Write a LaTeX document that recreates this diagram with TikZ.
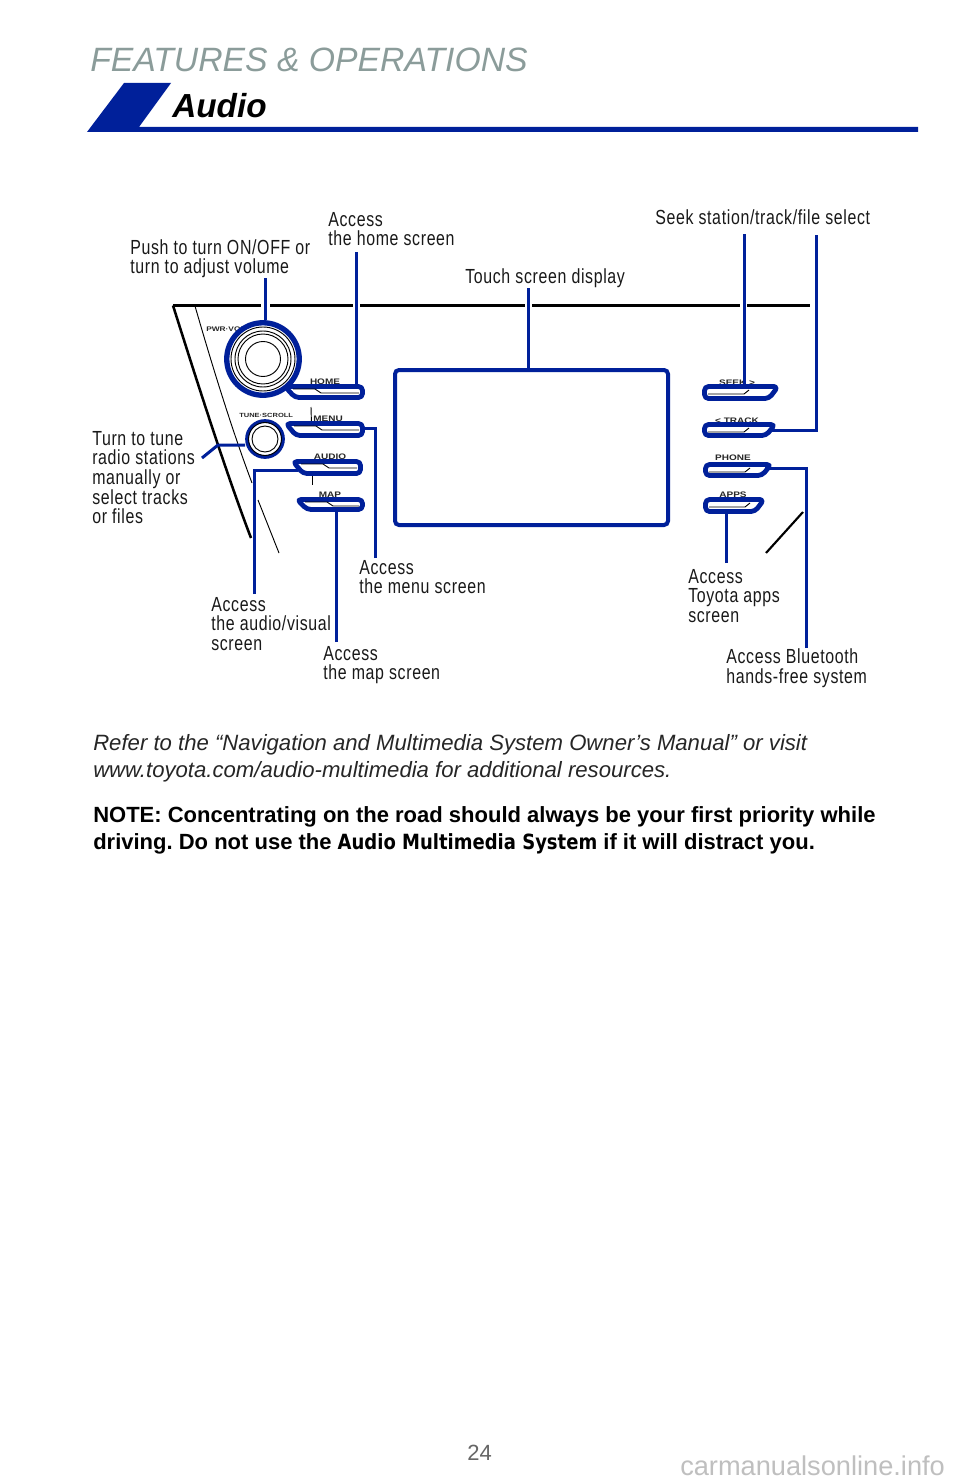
\documentclass[tikz,border=0pt]{standalone}
\usepackage{fontspec}
\setmainfont{Liberation Sans}
\newfontfamily\cond[FakeStretch=0.78,LetterSpace=3.2]{Liberation Sans}
\newfontfamily\wideb[FakeStretch=1.25]{Liberation Sans}
\definecolor{tblue}{HTML}{00209A}
\definecolor{tgray}{HTML}{8B9C9A}
\tikzset{
  lbl/.style={anchor=north west,inner sep=0pt,align=left,font=\cond\fontsize{15.3}{14.7}\selectfont,text=black!90},
  conn/.style={draw=tblue,line width=2.25pt,line join=miter},
  panel/.style={draw=black,line width=1.9pt},
  thinp/.style={draw=black,line width=0.7pt},
  outline/.style={draw=tblue,line width=3.6pt,fill=white,rounded corners=3pt,line join=round},
  btnbox/.style={inner sep=0pt,outer sep=0pt,draw=none},
  btntxt/.style={inner sep=0pt,font=\wideb\bfseries\fontsize{6}{6}\selectfont,text=black!85},
  inner/.style={draw=black,line width=0.7pt},
  ktxt/.style={inner sep=0pt,anchor=base west,font=\wideb\bfseries\fontsize{5}{5}\selectfont,text=black!85},
  para/.style={anchor=base west,inner sep=0pt}
}
% left-slanted button: name, x1, y1, x2, y2
\newcommand{\btnL}[5]{%
  \node[btnbox,minimum width={(#4-#2)*0.75pt},minimum height={(#5-#3)*0.75pt}] (#1) at ({(#2+#4)/2},{(#3+#5)/2}) {};
  \path[outline] (#2+25,#3+2.5) -- (#4-2.5,#3+2.5) -- (#4-2.5,#5-2.5) -- (#2+9,#5-2.5) -- (#2-1,#3+2.5) -- cycle;
  \draw[inner] (#2+7,#3+5) -- (#2+29,#3+5) -- (#2+35,#3+9) -- (#4-6,#3+9);
}
% right-slanted button
\newcommand{\btnR}[5]{%
  \node[btnbox,minimum width={(#4-#2)*0.75pt},minimum height={(#5-#3)*0.75pt}] (#1) at ({(#2+#4)/2},{(#3+#5)/2}) {};
  \path[outline] (#2+25,#3+2.5) -- (#4-1,#3+2.5) -- (#4-10,#5-2.5) -- (#2+2.5,#5-2.5) -- (#2+2.5,#3+2.5) -- cycle;
  \draw[inner] (#2+6,#3+10) -- (#2+42,#3+10) -- (#2+47,#3+6);
}
\begin{document}
\begin{tikzpicture}[x=0.75pt,y=-0.75pt]
\frenchspacing
\useasboundingbox (0,0) rectangle (960,1484);
\fill[white] (0,0) rectangle (960,1484);
% header
\node[para,text=tgray,font=\itshape\fontsize{25.3}{27}\selectfont] (hdr) at (90,72) {FEATURES \& OPERATIONS};
\fill[tblue] (87,132) -- (124,83) -- (171,83) -- (139,127) -- (918,127) -- (918,132) -- cycle;
\node[para,font=\bfseries\itshape\fontsize{25}{25}\selectfont] (audio) at (172,118) {Audio};
% panel
\draw[panel] (173,305.5) -- (261,305.5) (270,305.5) -- (353,305.5) (360,305.5) -- (525,305.5) (532,305.5) -- (740,305.5) (747,305.5) -- (810,305.5);
\draw[panel] (173,305.5) .. controls (195,375) and (225,470) .. (251,538);
\draw[thinp] (195,306) .. controls (212,365) and (232,430) .. (252,483);
\draw[thinp] (258,500) -- (279,553);
\draw[thinp] (311,407) -- (311.5,425);
\draw[thinp] (312,468) -- (312,485);
\draw[line width=1.6pt] (766,553) -- (803,512);
% knobs
\node[ktxt] (tpwr) at (206,331.5) {PWR·VOL};
\node[ktxt,font=\wideb\bfseries\fontsize{4.5}{5}\selectfont] (ttune) at (239,417) {TUNE·SCROLL};
\node[circle,draw=tblue,fill=white,line width=4pt,minimum size=72.5*0.75pt,inner sep=0pt] (knobA) at (263,359) {};
\foreach \r in {17.5,25,28,32}{\draw[black,line width=0.7pt] (knobA.center) circle[radius=\r*0.75pt];}
\node[circle,draw=tblue,fill=white,line width=2.8pt,minimum size=36*0.75pt,inner sep=0pt] (knobB) at (265,439) {};
\foreach \r in {13,16.5}{\draw[black,line width=0.7pt] (knobB.center) circle[radius=\r*0.75pt];}
% screen
\node[draw=tblue,line width=3pt,rounded corners=3pt,fill=white,minimum width=273*0.75pt,minimum height=155*0.75pt,inner sep=0pt] (screen) at (531.5,447.5) {};
% buttons
\node[btntxt] (tHome) at (325,381.5) {HOME};
\node[btntxt] (tMenu) at (328,419) {MENU};
\node[btntxt] (tAudio) at (330,457) {AUDIO};
\node[btntxt] (tMap) at (330,494.5) {MAP};
\node[btntxt] (tSeek) at (737,382.5) {SEEK >};
\node[btntxt] (tTrack) at (737,420.5) {< TRACK};
\node[btntxt] (tPhone) at (733,458) {PHONE};
\node[btntxt] (tApps) at (733,495) {APPS};
\btnL{bHome}{286}{384}{365}{400}
\btnL{bMenu}{287}{421}{365}{438}
\btnL{bAudio}{294}{459}{363}{476}
\btnL{bMap}{298}{497}{365}{512}
\btnR{bSeek}{702}{384}{779}{401}
\btnR{bTrack}{702}{422}{776}{438}
\btnR{bPhone}{703}{462}{772}{478}
\btnR{bApps}{703}{497}{765}{514}
% labels
\node[lbl] (lPush) at (130,239) {Push to turn ON/OFF or\\turn to adjust volume};
\node[lbl] (lHome) at (328,212) {Access\\the home screen};
\node[lbl] (lTouch) at (465,268) {Touch screen display};
\node[lbl] (lSeek) at (655,209) {Seek station/track/file select};
\node[lbl] (lTurn) at (92,431) {Turn to tune\\radio stations\\manually or\\select tracks\\or files};
\node[lbl] (lAudio) at (211,597) {Access\\the audio/visual\\screen};
\node[lbl] (lMap) at (323,646) {Access\\the map screen};
\node[lbl] (lMenu) at (359,560) {Access\\the menu screen};
\node[lbl] (lApps) at (688,569) {Access\\Toyota apps\\screen};
\node[lbl] (lBt) at (726,648.5) {Access Bluetooth\\hands-free system};
% connector free ends
\coordinate (cPush) at (265,278);
\coordinate (cHome) at (356,252);
\coordinate (cTouch) at (528,288);
\coordinate (cSeekA) at (744,234);
\coordinate (cSeekB) at (816,235);
\coordinate (cTurn) at (202,458);
\coordinate (cTurnB) at (218,445);
\coordinate (cAudio) at (254,594);
\coordinate (cMap) at (336,642);
\coordinate (cMenu) at (375,558);
\coordinate (cApps) at (726.5,563);
\coordinate (cPhone) at (806,648);
% connectors
\draw[conn] (cPush) -- (cPush |- knobA.north);
\draw[conn] (cHome) -- ([yshift=-1.5pt]cHome |- bHome.north);
\draw[conn] (cTouch) -- (cTouch |- screen.north);
\draw[conn] (cSeekA) -- ([yshift=-1.5pt]cSeekA |- bSeek.north);
\draw[conn] (cSeekB) |- ([xshift=-5pt]bTrack.east);
\draw[conn] (cTurn) -- (cTurnB) -- (knobB.west |- cTurnB);
\draw[conn] (cAudio) |- ([xshift=3pt,yshift=-1.9pt]bAudio.west);
\draw[conn] (cMap) -- (cMap |- bMap.south);
\draw[conn] (cMenu) |- ([xshift=-1pt,yshift=0.4pt]bMenu.east);
\draw[conn] (cApps) -- (cApps |- bApps.south);
\draw[conn] (cPhone) |- ([xshift=-5pt,yshift=1.5pt]bPhone.east);
% text
\node[para,font=\itshape\fontsize{16.6}{20}\selectfont,text=black!85] (p1) at (93,750) {Refer to the “Navigation and Multimedia System Owner’s Manual” or visit};
\node[para,font=\itshape\fontsize{16.6}{20}\selectfont,text=black!85] (p2) at (93,777) {www.toyota.com/audio-multimedia for additional resources.};
\node[para,font=\bfseries\fontsize{16.5}{20}\selectfont] (n1) at (93,822) {NOTE: Concentrating on the road should always be your first priority while};
\node[para,font=\bfseries\fontsize{16.5}{20}\selectfont] (n2) at (93,849) {driving. Do not use the {\fontspec{DejaVu Sans}[FakeStretch=0.86]\fontsize{15.7}{20}\selectfont Audio Multimedia System} if it will distract you.};
\node[para,font=\fontsize{16.5}{20}\selectfont,text=black!60] (pg) at (467,1460) {24};
\node[para,font=\fontsize{20.4}{20}\selectfont,text=black!25] (wm) at (680,1475) {carmanualsonline.info};
\end{tikzpicture}
\end{document}
